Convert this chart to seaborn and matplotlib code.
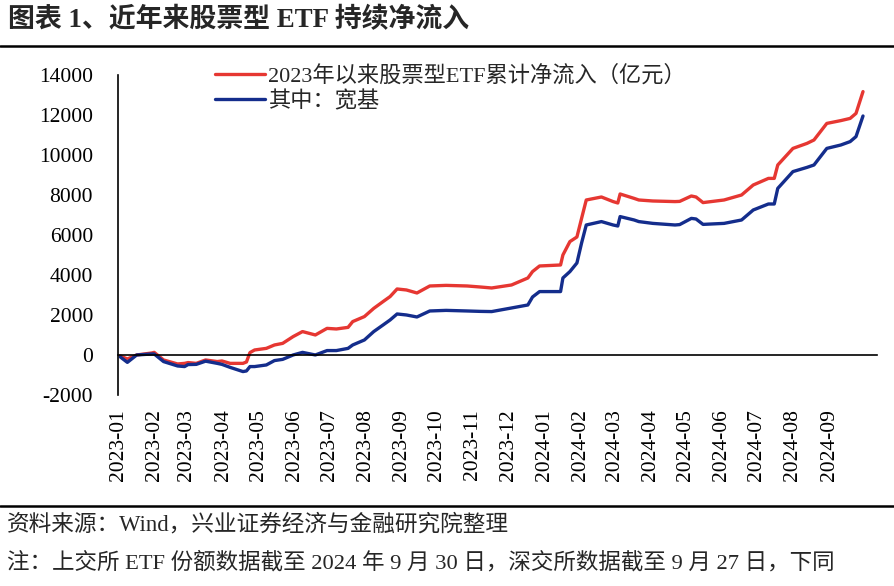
import pandas as pd
import matplotlib
matplotlib.use("Agg")
import matplotlib.pyplot as plt
import matplotlib.dates as mdates
import seaborn as sns

# ------- data (亿元) -------
dates = [
    "2023-01-03", "2023-01-09", "2023-01-17", "2023-01-30", "2023-02-01", "2023-02-09",
    "2023-02-21", "2023-02-27", "2023-03-02", "2023-03-09", "2023-03-17", "2023-03-27",
    "2023-03-31", "2023-04-07", "2023-04-18", "2023-04-21", "2023-04-24", "2023-04-28",
    "2023-05-08", "2023-05-15", "2023-05-22", "2023-05-31", "2023-06-08", "2023-06-19",
    "2023-06-29", "2023-07-07", "2023-07-17", "2023-07-21", "2023-07-31", "2023-08-08",
    "2023-08-16", "2023-08-22", "2023-08-28", "2023-09-05", "2023-09-14", "2023-09-25",
    "2023-10-09", "2023-10-27", "2023-11-07", "2023-11-17", "2023-12-04", "2023-12-18",
    "2023-12-22", "2023-12-28", "2024-01-15", "2024-01-17", "2024-01-23", "2024-01-29",
    "2024-02-02", "2024-02-06", "2024-02-19", "2024-02-29", "2024-03-04", "2024-03-06",
    "2024-03-18", "2024-03-22", "2024-04-03", "2024-04-22", "2024-04-26", "2024-05-06",
    "2024-05-10", "2024-05-16", "2024-06-03", "2024-06-18", "2024-06-28", "2024-07-11",
    "2024-07-16", "2024-07-19", "2024-08-01", "2024-08-13", "2024-08-19", "2024-08-30",
    "2024-09-11", "2024-09-19", "2024-09-24", "2024-09-30",
]
total_flow = [
    -50, -200, 0, 100, 130, -250,
    -450, -420, -380, -420, -250, -330,
    -300, -420, -420, -350, 120, 250,
    330, 500, 580, 920, 1170, 1000,
    1330, 1300, 1380, 1670, 1920, 2330,
    2670, 2920, 3300, 3250, 3100, 3450,
    3480, 3450, 3400, 3350, 3500, 3850,
    4170, 4450, 4500, 5000, 5670, 5900,
    6830, 7750, 7900, 7670, 7600, 8050,
    7830, 7750, 7700, 7670, 7680, 7950,
    7900, 7620, 7750, 8000, 8500, 8830,
    8830, 9500, 10330, 10580, 10750, 11580,
    11720, 11830, 12080, 13170,
]
broad_flow = [
    -100, -370, 0, 50, 50, -330,
    -550, -580, -480, -470, -310, -420,
    -470, -620, -830, -800, -580, -580,
    -500, -280, -220, 0, 130, 0,
    220, 220, 330, 500, 750, 1170,
    1500, 1750, 2050, 2000, 1900, 2200,
    2230, 2200, 2180, 2170, 2350, 2500,
    2900, 3170, 3170, 3850, 4170, 4600,
    5600, 6500, 6670, 6500, 6450, 6920,
    6750, 6670, 6580, 6500, 6520, 6830,
    6800, 6530, 6580, 6750, 7250, 7550,
    7550, 8330, 9170, 9380, 9500, 10330,
    10500, 10670, 10920, 11950,
]
series_names = ["2023年以来股票型ETF累计净流入（亿元）", "其中：宽基"]
series_colors = ["#E63732", "#142D8C"]
month_ticks = pd.date_range("2023-01-01", "2024-09-01", freq="MS")
y_ticks = list(range(-2000, 14001, 2000))

title_text = "图表 1、近年来股票型 ETF 持续净流入"
source_text = "资料来源：Wind，兴业证券经济与金融研究院整理"
note_text = "注：上交所 ETF 份额数据截至 2024 年 9 月 30 日，深交所数据截至 9 月 27 日，下同"

# ------- long-form frame for seaborn -------
df = pd.concat([
    pd.DataFrame({"date": pd.to_datetime(dates), "value": total_flow, "series": series_names[0]}),
    pd.DataFrame({"date": pd.to_datetime(dates), "value": broad_flow, "series": series_names[1]}),
], ignore_index=True)

sns.set_style("white")
plt.rcParams["font.family"] = ["Liberation Serif", "Noto Sans CJK SC"]
plt.rcParams["axes.unicode_minus"] = False

fig = plt.figure(figsize=(8.94, 5.86), dpi=100)
ax = fig.add_axes([0.132, 0.326, 0.849, 0.546])

sns.lineplot(data=df, x="date", y="value", hue="series", hue_order=series_names,
             palette=series_colors, linewidth=2.4, ax=ax, legend=True)

ax.set_ylim(-2000, 14000)
ax.set_xlim(pd.Timestamp("2023-01-01"), pd.Timestamp("2024-10-12"))
ax.set_yticks(y_ticks)
ax.set_xticks(month_ticks)
ax.xaxis.set_major_formatter(mdates.DateFormatter("%Y-%m"))
ax.set_xlabel("")
ax.set_ylabel("")

for side in ["top", "right"]:
    ax.spines[side].set_visible(False)
ax.spines["bottom"].set_position(("data", 0))
for side in ["left", "bottom"]:
    ax.spines[side].set_color("black")
    ax.spines[side].set_linewidth(1.2)

ax.tick_params(axis="x", direction="in", length=5, width=1.2, pad=39,
               labelsize=15.5, rotation=90, colors="black")
ax.tick_params(axis="y", direction="in", length=5, width=1.2, pad=18,
               labelsize=15.5, colors="black")
ax.grid(False)

leg = ax.legend(loc="upper left", bbox_to_anchor=(0.2405, 0.889),
                bbox_transform=fig.transFigure, frameon=False, fontsize=16,
                handlelength=2.25, handletextpad=0.15, borderpad=0,
                borderaxespad=0, labelspacing=0.2)
for line in leg.get_lines():
    line.set_linewidth(2.4)

# header / footer
fig.text(0.009, 0.966, title_text, fontsize=19.4, fontweight="bold", va="center", ha="left")
fig.add_artist(plt.Line2D([0, 1], [0.9215, 0.9215], color="black", linewidth=1.8,
                          transform=fig.transFigure))
fig.add_artist(plt.Line2D([0, 1], [0.1365, 0.1365], color="black", linewidth=1.8,
                          transform=fig.transFigure))
fig.text(0.008, 0.104, source_text, fontsize=16.3, va="center", ha="left")
fig.text(0.008, 0.039, note_text, fontsize=16.2, va="center", ha="left")

fig.savefig("out.png", dpi=100)
print("Done.")
